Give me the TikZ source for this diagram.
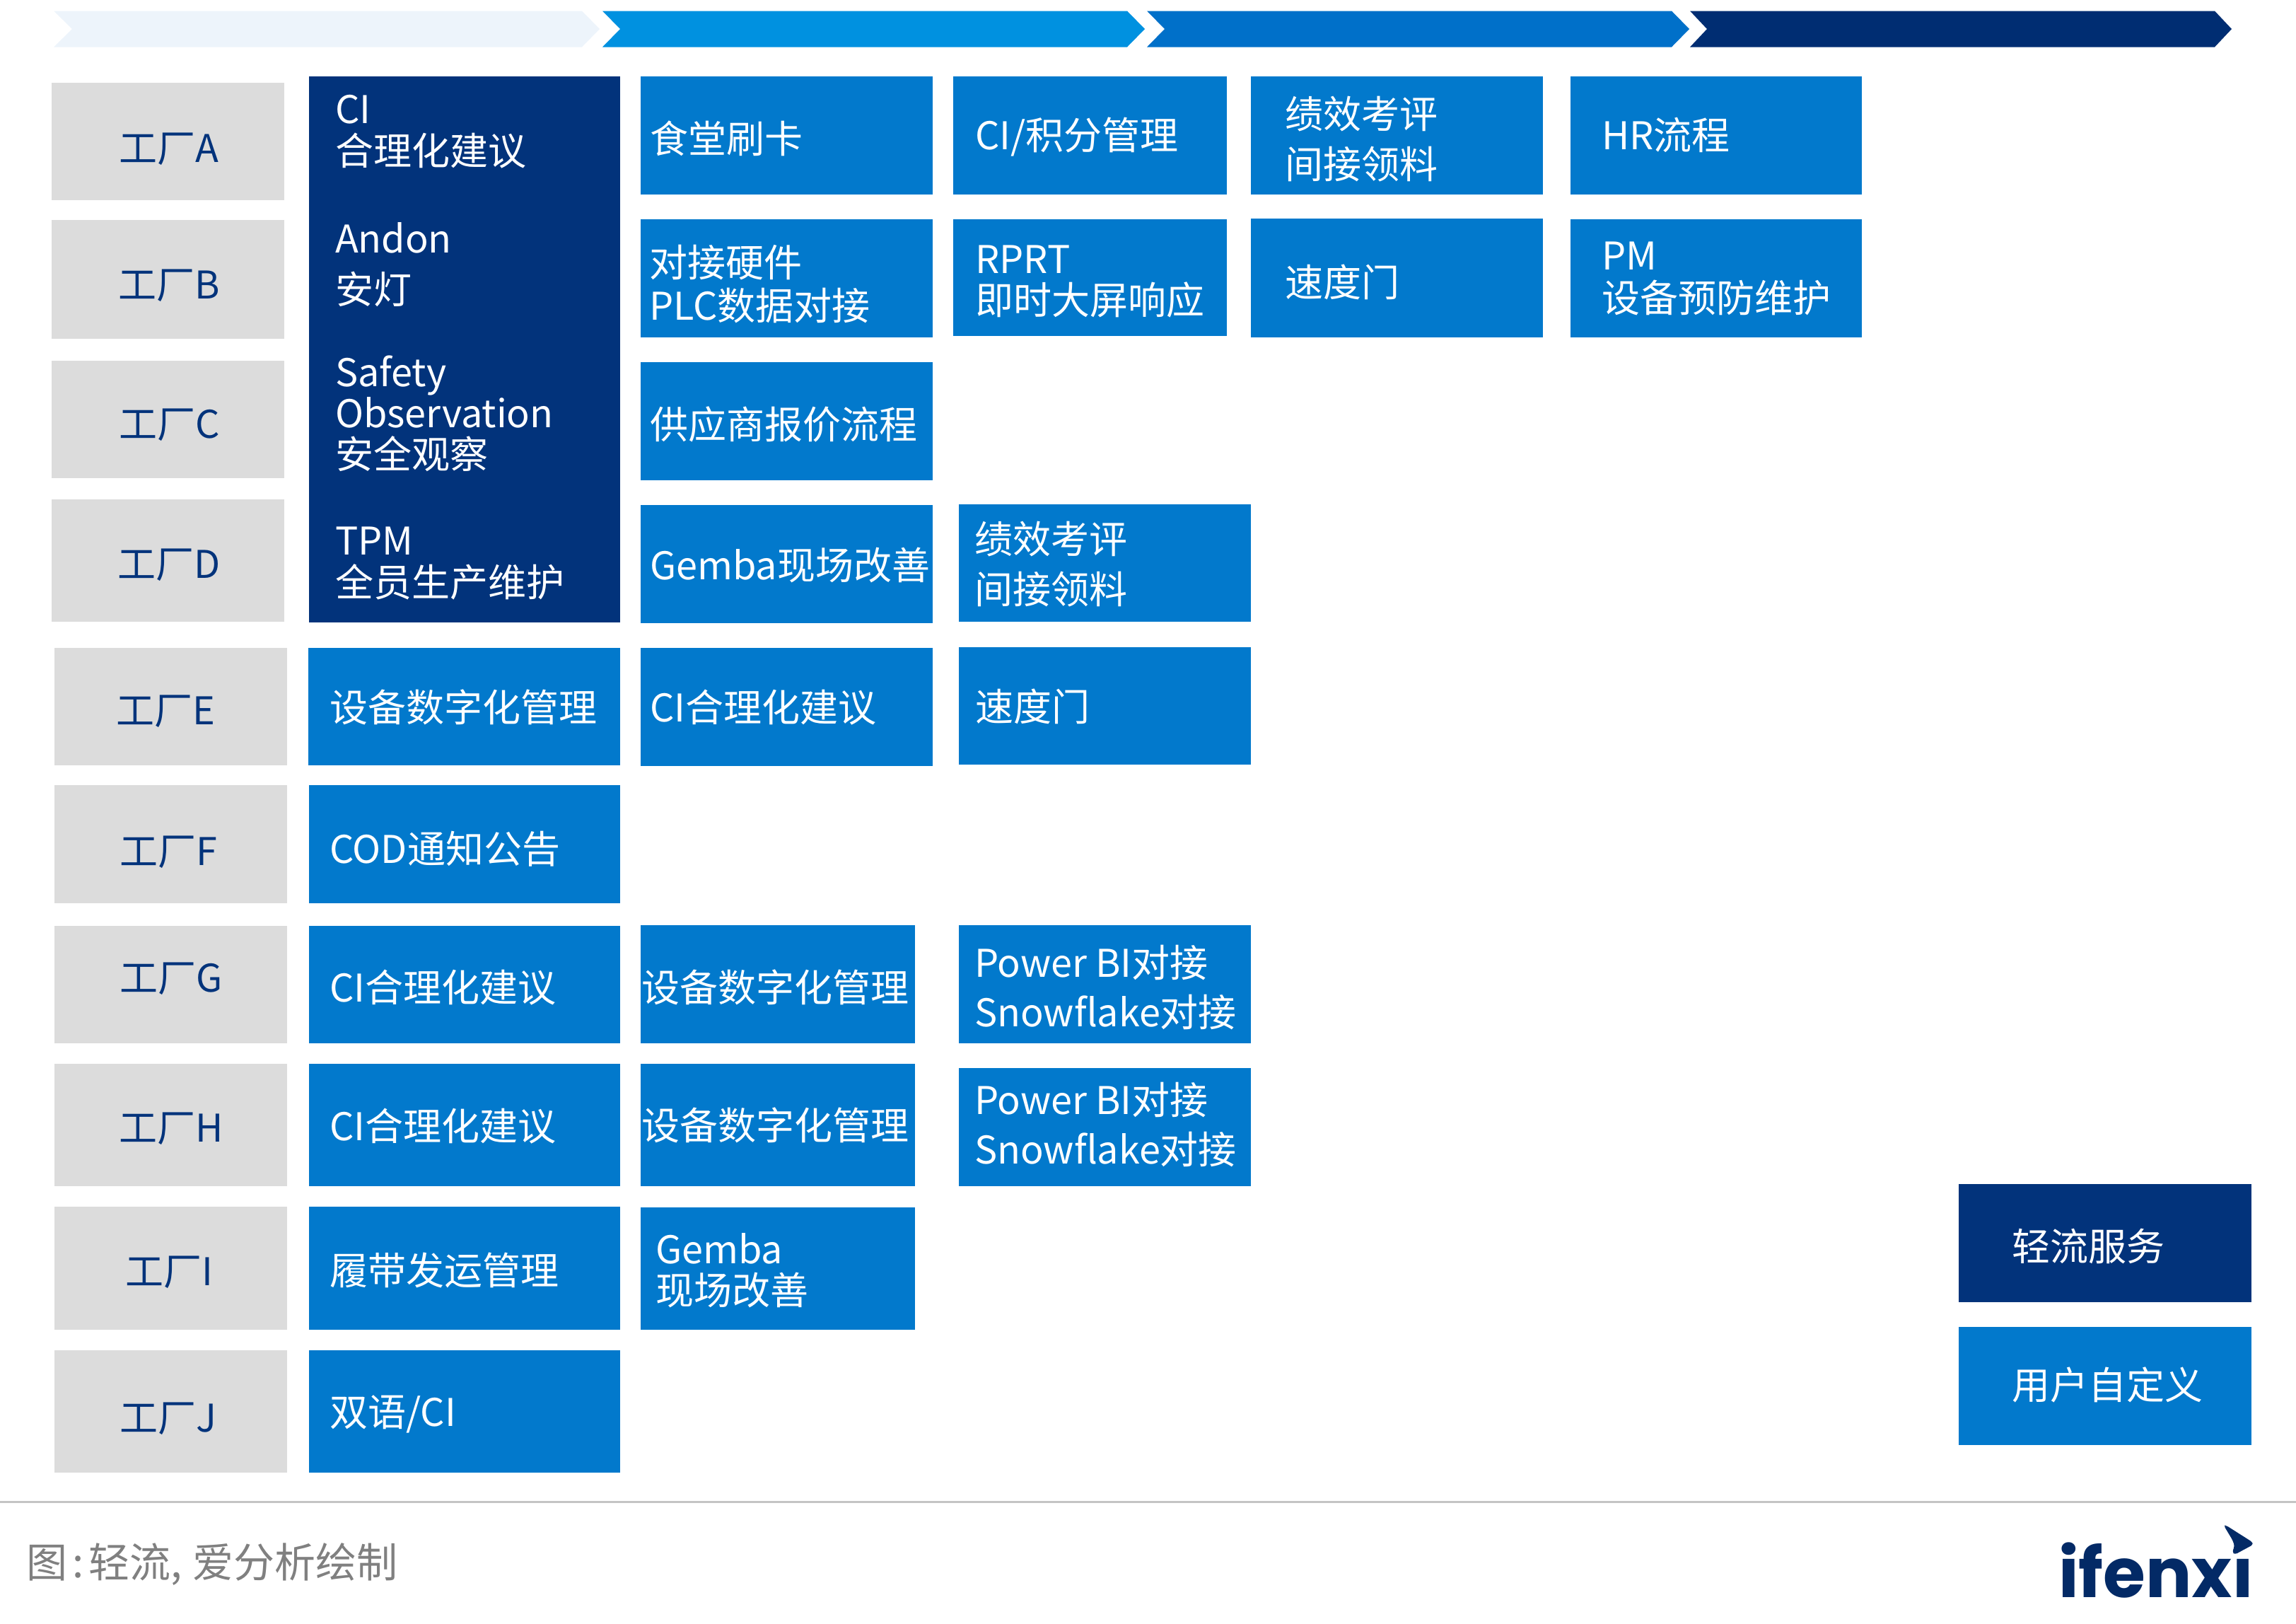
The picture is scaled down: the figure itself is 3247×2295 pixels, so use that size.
\documentclass[tikz,border=0pt]{standalone}
\usepackage{fontspec}
\setmainfont{Noto Sans CJK SC}
\newfontfamily\logofont{Poppins}
\definecolor{navy}{HTML}{02337B}
\definecolor{midblue}{HTML}{0279CC}
\definecolor{paleg}{HTML}{DCDCDC}
\definecolor{chevA}{HTML}{EDF4FB}
\definecolor{chevB}{HTML}{0091E0}
\definecolor{chevC}{HTML}{0070C9}
\definecolor{chevD}{HTML}{002D72}
\definecolor{capgrey}{HTML}{808080}
\definecolor{rulegrey}{HTML}{C4C4C4}
\definecolor{logonavy}{HTML}{032A66}
\tikzset{
  x=1pt,y=-1pt,
  blockbase/.style={inner sep=0pt,outer sep=0pt,anchor=north west},
  gbox/.style={blockbase,fill=paleg},
  dbox/.style={blockbase,fill=navy},
  bbox/.style={blockbase,fill=midblue},
  wtext/.style={inner sep=0pt,outer sep=0pt,anchor=base west,text=white,font=\fontsize{54}{60}\selectfont},
  ntext/.style={wtext,text=navy},
}
\newcommand{\bx}[6]{\pgfmathsetmacro\bxw{#5-#3}\pgfmathsetmacro\bxh{#6-#4}%
  \node[#2,minimum width=\bxw pt,minimum height=\bxh pt] (#1) at (#3,{#4+0.5}) {};}
\newcommand{\tx}[6]{\node[#2] (#1) at (#3,{#4+1.5}) {\vtop{\baselineskip=#5pt\lineskiplimit=-1000pt #6}};}
\newcommand{\lin}[1]{\hbox{#1}}
\newcommand{\chev}[5]{\fill[#1] (#2,15.5) -- (#4,15.5) -- (#5,41) -- (#4,66.5) -- (#2,66.5) -- (#3,41) -- cycle;}
\begin{document}
\begin{tikzpicture}
\useasboundingbox (0,0) rectangle (3247,2295);
\chev{chevA}{76}{102}{823}{848}
\chev{chevB}{852}{877}{1594}{1619}
\chev{chevC}{1622}{1647}{2364}{2389}
\chev{chevD}{2390}{2414}{3132}{3156}
% factories
\bx{ga}{gbox}{73}{116}{402}{282}  \tx{gat}{ntext}{168}{228}{60}{\lin{工厂A}}
\bx{gb}{gbox}{73}{310}{402}{478}  \tx{gbt}{ntext}{167}{421}{60}{\lin{工厂B}}
\bx{gc}{gbox}{73}{509}{402}{675}  \tx{gct}{ntext}{168}{618}{60}{\lin{工厂C}}
\bx{gd}{gbox}{73}{705}{402}{878}  \tx{gdt}{ntext}{166}{816}{60}{\lin{工厂D}}
\bx{ge}{gbox}{77}{915}{406}{1081} \tx{get}{ntext}{164}{1023}{60}{\lin{工厂E}}
\bx{gf}{gbox}{77}{1109}{406}{1276} \tx{gft}{ntext}{169}{1222}{60}{\lin{工厂F}}
\bx{gg}{gbox}{77}{1308}{406}{1474} \tx{ggt}{ntext}{169}{1401}{60}{\lin{工厂G}}
\bx{gh}{gbox}{77}{1503}{406}{1676} \tx{ght}{ntext}{168}{1613}{60}{\lin{工厂H}}
\bx{gi}{gbox}{77}{1705}{406}{1879} \tx{git}{ntext}{177}{1816}{60}{\lin{工厂I}}
\bx{gj}{gbox}{77}{1908}{406}{2081} \tx{gjt}{ntext}{169}{2023}{60}{\lin{工厂J}}
% dark column
\bx{dk}{dbox}{437}{107}{877}{879}
\tx{dk1}{wtext}{474}{173}{59}{\lin{CI}\lin{合理化建议}}
\tx{dk2}{wtext}{474}{356}{72}{\lin{Andon}\lin{安灯}}
\tx{dk3}{wtext}{474}{545}{58}{\lin{Safety}\lin{Observation}\lin{安全观察}}
\tx{dk4}{wtext}{474}{783}{59}{\lin{TPM}\lin{全员生产维护}}
% column 2
\bx{c2e}{bbox}{436}{915}{877}{1081}  \tx{c2et}{wtext}{466}{1019}{60}{\lin{设备数字化管理}}
\bx{c2f}{bbox}{437}{1109}{877}{1276} \tx{c2ft}{wtext}{466}{1219}{60}{\lin{COD通知公告}}
\bx{c2g}{bbox}{437}{1308}{877}{1474} \tx{c2gt}{wtext}{466}{1415}{60}{\lin{CI合理化建议}}
\bx{c2h}{bbox}{437}{1503}{877}{1676} \tx{c2ht}{wtext}{466}{1611}{60}{\lin{CI合理化建议}}
\bx{c2i}{bbox}{437}{1705}{877}{1879} \tx{c2it}{wtext}{466}{1815}{60}{\lin{履带发运管理}}
\bx{c2j}{bbox}{437}{1908}{877}{2081} \tx{c2jt}{wtext}{466}{2015}{60}{\lin{双语/CI}}
% column 3
\bx{c3a}{bbox}{906}{107}{1319}{274} \tx{c3at}{wtext}{919}{215}{60}{\lin{食堂刷卡}}
\bx{c3b}{bbox}{906}{309}{1319}{476} \tx{c3bt}{wtext}{918}{390}{61}{\lin{对接硬件}\lin{PLC数据对接}}
\bx{c3c}{bbox}{906}{511}{1319}{678} \tx{c3ct}{wtext}{919}{619}{60}{\lin{供应商报价流程}}
\bx{c3d}{bbox}{906}{713}{1319}{880} \tx{c3dt}{wtext}{919}{818}{60}{\lin{Gemba现场改善}}
\bx{c3e}{bbox}{906}{915}{1319}{1082} \tx{c3et}{wtext}{919}{1019}{60}{\lin{CI合理化建议}}
\bx{c3g}{bbox}{906}{1307}{1294}{1474} \tx{c3gt}{wtext}{907}{1415}{60}{\lin{设备数字化管理}}
\bx{c3h}{bbox}{906}{1503}{1294}{1676} \tx{c3ht}{wtext}{907}{1610}{60}{\lin{设备数字化管理}}
\bx{c3i}{bbox}{906}{1706}{1294}{1879} \tx{c3it}{wtext}{927}{1785}{58}{\lin{Gemba}\lin{现场改善}}
% column 4
\bx{c4a}{bbox}{1348}{107}{1735}{274} \tx{c4at}{wtext}{1379}{210}{60}{\lin{CI/积分管理}}
\bx{c4b}{bbox}{1348}{309}{1735}{474} \tx{c4bt}{wtext}{1379}{385}{58}{\lin{RPRT}\lin{即时大屏响应}}
\bx{c4d}{bbox}{1356}{712}{1769}{878} \tx{c4dt}{wtext}{1378}{781}{71}{\lin{绩效考评}\lin{间接领料}}
\bx{c4e}{bbox}{1356}{914}{1769}{1080} \tx{c4et}{wtext}{1379}{1018}{60}{\lin{速度门}}
\bx{c4g}{bbox}{1356}{1307}{1769}{1474} \tx{c4gt}{wtext}{1378}{1380}{70}{\lin{Power BI对接}\lin{Snowflake对接}}
\bx{c4h}{bbox}{1356}{1509}{1769}{1676} \tx{c4ht}{wtext}{1378}{1574}{70}{\lin{Power BI对接}\lin{Snowflake对接}}
% column 5
\bx{c5a}{bbox}{1769}{107}{2182}{274} \tx{c5at}{wtext}{1817}{180}{71}{\lin{绩效考评}\lin{间接领料}}
\bx{c5b}{bbox}{1769}{308}{2182}{476} \tx{c5bt}{wtext}{1817}{418}{60}{\lin{速度门}}
% column 6
\bx{c6a}{bbox}{2221}{107}{2633}{274} \tx{c6at}{wtext}{2265}{210}{60}{\lin{HR流程}}
\bx{c6b}{bbox}{2221}{309}{2633}{476} \tx{c6bt}{wtext}{2265}{380}{60}{\lin{PM}\lin{设备预防维护}}
% legend
\bx{lga}{dbox}{2770}{1673}{3184}{1840} \tx{lgat}{wtext}{2845}{1781}{60}{\lin{轻流服务}}
\bx{lgb}{bbox}{2770}{1875}{3184}{2042} \tx{lgbt}{wtext}{2845}{1977}{60}{\lin{用户自定义}}
% footer
\draw[rulegrey,line width=3pt] (0,2123) -- (3247,2123);
\node[inner sep=0pt,outer sep=0pt,anchor=base west,text=capgrey,font=\fontsize{58}{60}\selectfont] (cap) at (37,2230.5) {图\kern8pt:\kern6pt 轻流,\kern15pt 爱分析绘制};
% logo
\node[inner sep=0pt,outer sep=0pt,anchor=base west,text=logonavy,font=\logofont\bfseries\fontsize{97}{97}\selectfont] (logo) at (2911,2258) {ifenxı};
\fill[logonavy,rounded corners=3pt] (3145,2157) -- (3148,2156.5) -- (3185,2180) -- (3186,2184) -- (3161,2197.5) -- (3157,2195) -- (3160,2185) -- (3157,2177) -- cycle;
\end{tikzpicture}
\end{document}
